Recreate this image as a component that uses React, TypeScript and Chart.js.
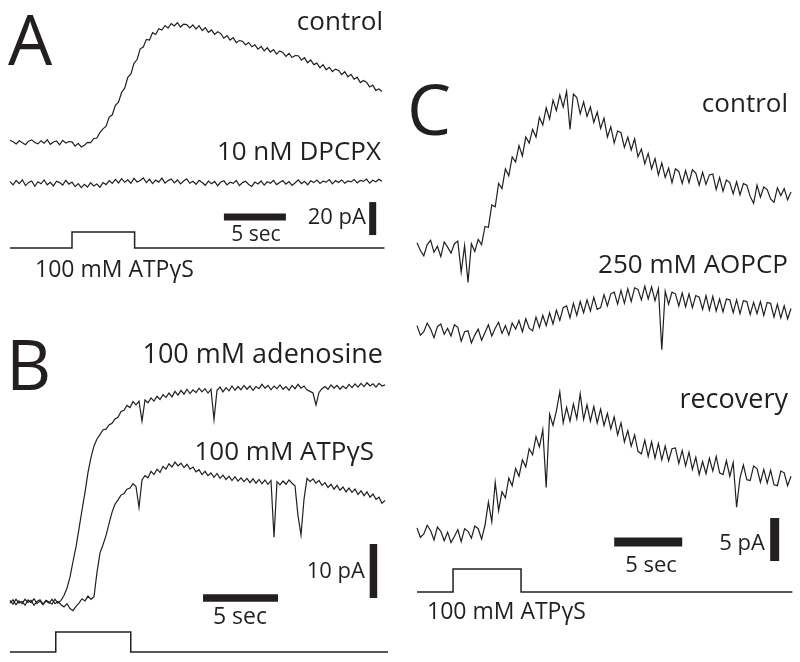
import React, { useEffect, useRef } from "react";
import { Chart, registerables } from "chart.js";

Chart.register(...registerables);

// ---------------- DATA ----------------
// Panel A: sampled every 0.25 s, current in pA relative to baseline
const A_DT = 0.25;
const A_CONTROL = [
  1.7, 0.8, -0.6, 1.3, 0.1, -1.0, 1.1, 1.9, 0.3, -0.5,
  1.4, -0.1, 2.0, -0.8, 0.6, 1.2, -1.1, 1.6, 0.0, 0.9,
  0.7, -1.9, -0.2, -2.4, -1.3, 0.4, 0.2, 2.6, 3.0, 6.3,
  8.6, 10.2, 15.7, 17.1, 22.9, 24.8, 30.6, 33.2, 39.8, 41.9,
  48.3, 50.6, 57.1, 58.2, 62.8, 62.4, 66.9, 65.8, 69.3, 68.5,
  71.2, 69.6, 72.4, 70.9, 72.9, 70.3, 72.0, 71.8, 69.7, 71.6,
  69.0, 71.1, 68.2, 69.9, 67.1, 68.5, 65.8, 67.4, 66.3, 63.5,
  65.1, 62.4, 63.9, 60.8, 62.1, 61.6, 59.4, 60.9, 58.3, 59.5,
  56.9, 58.6, 55.8, 57.7, 55.1, 56.6, 53.9, 55.8, 54.9, 52.5,
  54.3, 51.8, 53.0, 52.9, 50.2, 51.7, 48.6, 50.3, 47.5, 48.4,
  45.6, 47.5, 44.4, 45.9, 43.3, 44.8, 44.0, 41.5, 43.2, 40.1,
  41.6, 38.7, 39.9, 36.6, 37.9, 36.8, 34.0, 35.1, 31.9, 32.8,
  31.2,
];
const A_DPCPX = [
  0.8, -1.2, 1.5, -0.4, 1.9, -1.6, 0.3, 1.2, -2.0, 0.7,
  -0.5, 1.8, -1.1, 0.4, -1.8, 1.0, 0.2, -1.3, 1.6, -0.7,
  0.5, -2.2, -0.4, -2.8, -0.9, -2.5, 0.1, -1.9, -0.6, -2.6,
  0.2, -1.0, 1.4, -0.3, 2.1, 0.0, 2.6, 0.4, 1.9, -0.2,
  2.8, 0.6, 1.5, 3.0, 0.2, 2.2, -0.4, 1.7, 0.5, 2.9,
  -0.1, 1.4, 2.4, 0.0, 1.8, -0.6, 1.2, 2.5, -0.2, 1.0,
  -0.8, 1.6, 0.3, -1.4, 1.1, -0.5, 0.9, -1.7, 0.6, 1.3,
  -1.2, 0.4, -0.3, 1.5, -1.6, 0.2, 1.0, -0.9, -2.1, 0.5,
  -0.6, 1.2, -1.3, 0.7, -0.2, 1.6, -1.0, 0.3, 1.4, -0.7,
  0.8, -1.5, 0.1, 1.9, -0.4, 0.9, -1.1, 1.3, 0.2, 1.7,
  -0.3, 1.1, 0.5, 2.0, -0.6, 1.4, 0.3, 1.8, -0.2, 1.2,
  0.6, 2.1, 0.0, 1.5, 0.9, 2.3, -0.1, 1.6, 0.7, 2.2,
  1.0,
];
const A_STIM_ON_OFF = [5.0, 10.05]; // s
const A_SWEEP_END = 30.2; // s

// Panel B: sampled every 0.2 s
const B_DT = 0.2;
const B_ADENOSINE = [
  0.3, -0.4, 0.5, -0.2, 0.1, -0.6, 0.4, -0.1, 0.6, -0.3,
  0.2, -0.5, 0.3, 0.0, -0.4, 0.5, -0.2, 0.3, 1.2, 2.6,
  4.6, 7.5, 10.2, 13.6, 17.0, 20.3, 24.0, 26.8, 28.9, 30.2,
  31.0, 31.9, 32.0, 32.8, 33.1, 33.9, 34.2, 35.3, 35.5, 36.4,
  36.0, 37.1, 36.5, 37.2, 33.5, 37.4, 36.9, 37.8, 37.2, 38.1,
  37.5, 38.4, 37.9, 38.7, 38.0, 39.0, 38.3, 39.2, 38.5, 39.4,
  38.6, 39.3, 38.8, 39.6, 38.9, 39.5, 38.7, 39.4, 33.8, 39.2,
  39.8, 38.9, 39.7, 39.1, 40.0, 39.2, 39.9, 39.3, 40.1, 39.4,
  40.0, 39.2, 39.9, 39.5, 40.3, 39.6, 40.1, 39.3, 40.0, 39.5,
  40.2, 39.4, 39.9, 39.2, 40.1, 39.5, 40.3, 39.6, 40.0, 39.3,
  39.0, 38.7, 36.5, 38.8, 39.5, 39.9, 39.4, 40.2, 39.6, 40.1,
  39.4, 40.0, 39.5, 40.3, 39.7, 40.4, 39.8, 40.5, 39.9, 40.6,
  40.0, 40.4, 39.8, 40.5, 40.0, 40.2,
];
const B_ATPGS = [
  -0.2, 0.4, -0.5, 0.2, -0.3, 0.5, -0.1, 0.3, -0.6, 0.1,
  0.4, -0.4, 0.2, -0.2, 0.5, -0.3, 0.1, -0.5, -0.9, -0.3,
  -1.2, -1.6, -0.8, -0.2, 0.6, 0.2, 1.1, 0.5, 1.0, 5.5,
  9.1, 10.6, 12.3, 14.5, 16.6, 18.1, 18.9, 19.8, 20.1, 20.9,
  21.1, 21.9, 21.4, 17.5, 22.6, 23.4, 23.0, 24.2, 23.6, 24.6,
  24.0, 25.1, 24.6, 25.6, 25.0, 25.9, 25.2, 25.7, 24.9, 25.5,
  24.6, 25.0, 24.1, 24.5, 23.6, 24.2, 23.4, 23.9, 23.1, 23.8,
  22.9, 23.5, 22.7, 23.3, 22.5, 23.2, 22.4, 23.0, 22.3, 22.9,
  22.1, 22.8, 22.0, 22.7, 21.9, 22.6, 21.8, 22.5, 12.0, 22.3,
  21.7, 22.4, 21.8, 22.6, 22.0, 21.5, 16.0, 12.4, 19.0, 22.9,
  22.3, 22.8, 22.0, 22.5, 21.6, 22.1, 21.2, 21.8, 20.9, 21.6,
  20.7, 21.3, 20.4, 21.1, 20.3, 20.9, 19.9, 20.6, 19.7, 20.4,
  19.4, 20.0, 19.0, 19.4, 18.3, 18.8,
];
const B_STIM_ON_OFF = [3.05, 8.05];
const B_SWEEP_END = 25.2;

// Panel C: sampled every 0.25 s
const C_DT = 0.25;
const C_CONTROL = [
  0.6, -0.3, -0.9, 0.4, 0.9, -0.5, 0.2, -1.0, 0.7, 0.1,
  -0.6, 0.5, 0.8, -2.8, 0.3, -4.0, 0.5, -0.4, 1.0, 0.4,
  2.5, 2.4, 5.0, 4.8, 7.5, 6.9, 9.2, 8.4, 10.6, 10.0,
  11.9, 10.7, 12.9, 12.2, 13.8, 12.9, 15.2, 14.3, 16.3, 15.0,
  17.2, 16.0, 17.8, 16.4, 18.2, 13.8, 17.9, 17.5, 15.6, 17.0,
  15.3, 16.4, 14.6, 15.8, 13.9, 15.1, 12.9, 14.1, 12.2, 13.6,
  13.4, 11.7, 12.9, 11.4, 12.7, 10.6, 11.5, 9.8, 11.0, 9.2,
  10.4, 8.5, 9.9, 8.2, 9.3, 7.6, 9.2, 8.9, 7.5, 9.0,
  7.6, 9.1, 8.7, 7.3, 8.8, 7.4, 8.5, 8.6, 6.8, 8.2,
  6.6, 7.9, 7.6, 6.3, 7.7, 6.2, 7.5, 7.3, 6.0, 5.2,
  7.3, 5.9, 7.1, 6.8, 5.7, 5.3, 7.0, 6.1, 6.9, 5.6,
  6.5,
];
const C_AOPCP = [
  0.5, -0.6, -0.2, 0.8, 0.1, -0.9, 0.4, 0.7, -0.5, 0.2,
  -0.7, 0.6, 0.3, -1.3, -0.2, -0.1, -1.5, -0.6, 0.1, -1.2,
  -0.3, 0.6, -0.7, 0.2, 0.9, -0.4, 0.5, -0.6, 0.8, 0.1,
  1.1, -0.2, 1.3, 0.2, -0.1, 1.5, 0.3, 1.7, 0.5, 2.0,
  0.7, 2.3, 1.1, 2.6, 2.8, 1.4, 3.1, 1.7, 3.3, 2.0,
  3.5, 2.2, 3.8, 2.4, 2.6, 4.1, 2.8, 4.2, 4.4, 3.0,
  4.6, 3.1, 4.8, 3.3, 4.9, 4.7, 3.5, 5.1, 3.6, 5.0,
  3.4, 4.8, -2.3, 4.5, 3.0, 4.4, 4.2, 2.8, 4.3, 2.7,
  4.2, 2.6, 4.0, 3.8, 2.4, 4.0, 2.3, 3.9, 2.2, 3.6,
  2.1, 3.6, 3.5, 2.0, 3.5, 1.9, 3.4, 3.3, 1.8, 3.2,
  1.9, 3.3, 1.7, 3.2, 3.1, 1.5, 3.0, 1.4, 2.8, 1.3,
  2.5,
];
const C_RECOVERY = [
  0.6, -0.5, -0.1, 0.9, 0.3, -0.8, 0.7, 0.2,
  -0.9, 0.1, -1.1, -0.4, 0.4, -1.0, 0.5, 0.2,
  -0.6, 0.8, 0.5, -0.7, 0.9, 3.6, 1.3, 5.9,
  2.6, 4.8, 4.1, 6.4, 5.5, 7.5, 6.6, 8.5,
  7.7, 9.8, 9.1, 11.2, 10.0, 12.0, 5.3, 13.8,
  12.5, 14.2, 16.4, 12.8, 14.6, 13.0, 15.0, 13.3,
  16.2, 13.2, 14.9, 13.0, 14.7, 12.8, 14.4, 12.5,
  13.9, 12.1, 13.5, 11.4, 12.8, 10.6, 11.9, 10.1,
  11.4, 9.5, 9.2, 10.8, 8.9, 10.6, 8.7, 10.4,
  8.5, 10.1, 8.4, 9.8, 9.9, 8.1, 9.6, 7.8,
  9.4, 7.4, 8.8, 6.8, 8.3, 6.9, 8.7, 7.2,
  8.9, 7.0, 6.8, 8.4, 6.6, 8.2, 3.0, 6.4,
  7.9, 6.2, 6.1, 7.8, 7.5, 5.9, 7.4, 5.8,
  7.3, 5.6, 5.5, 7.2, 7.0, 5.5, 6.6,
];
const C_STIM_ON_OFF = [2.65, 7.65];
const C_SWEEP_END = 27.6;

// Scale bar sizes (data units)
const A_BAR = [5, 20]; // sec, pA
const B_BAR = [5, 10];
const C_BAR = [5, 5];

// ---------------- LAYOUT / STYLE ----------------
const INK = "#231f20";
const FONT = '"Open Sans", "Noto Sans", sans-serif';
const TRACE_W = 1.2;

type Geom = {
  left: number; top: number; width: number; height: number;
  x0: number; pxPerSec: number; y0: number; pxPerPA: number; s0: number; sPx: number;
};
const GEOM_A: Geom = { left: 0, top: 0, width: 400, height: 270, x0: 10, pxPerSec: 12.4, y0: 143, pxPerPA: 1.65, s0: 248, sPx: 16 };
const GEOM_B: Geom = { left: 0, top: 270, width: 400, height: 392, x0: 10, pxPerSec: 15, y0: 332, pxPerPA: 5.4, s0: 382, sPx: 20 };
const GEOM_C: Geom = { left: 400, top: 60, width: 400, height: 580, x0: 17, pxPerSec: 13.6, y0: 188, pxPerPA: 8.6, s0: 532, sPx: 23 };

// trace vertical offsets (pA) and scale bar anchors (data units)
const A_DPCPX_OFFSET = -24.2;
const A_BAR_POS = { tBar: 17.25, vBar: -44.8, tV: 29.25, vV: -55.8, w: 7 };
const B_BAR_POS = { tBar: 12.87, vBar: 0.74, tV: 24.23, vV: 0.74, w: 7.5 };
const C_AOPCP_OFFSET = -9.53;
const C_RECOVERY_OFFSET = -33.14;
const C_BAR_POS = { tBar: 14.5, vBar: -34.2, tV: 26.3, vV: -36.4, w: 9 };

type Label = { text: string; x: number; top: number; size: number; anchor: "left" | "right" | "center" };
const LABELS: Label[] = [
  { text: "A", x: 8, top: 3, size: 70, anchor: "left" },
  { text: "control", x: 383, top: 7, size: 26, anchor: "right" },
  { text: "10 nM DPCPX", x: 381, top: 137, size: 26, anchor: "right" },
  { text: "5 sec", x: 256, top: 223, size: 21, anchor: "center" },
  { text: "20 pA", x: 366, top: 204, size: 22, anchor: "right" },
  { text: "100 mM ATPγS", x: 35, top: 257, size: 23, anchor: "left" },
  { text: "B", x: 6, top: 328, size: 70, anchor: "left" },
  { text: "100 mM adenosine", x: 383, top: 339, size: 27, anchor: "right" },
  { text: "100 mM ATPγS", x: 374, top: 437, size: 26, anchor: "right" },
  { text: "10 pA", x: 365, top: 558, size: 22, anchor: "right" },
  { text: "5 sec", x: 240, top: 604, size: 23, anchor: "center" },
  { text: "C", x: 407, top: 73, size: 70, anchor: "left" },
  { text: "control", x: 788, top: 89, size: 26, anchor: "right" },
  { text: "250 mM AOPCP", x: 788, top: 250, size: 26, anchor: "right" },
  { text: "recovery", x: 788, top: 384, size: 27, anchor: "right" },
  { text: "5 sec", x: 651, top: 552, size: 22, anchor: "center" },
  { text: "5 pA", x: 765, top: 530, size: 22, anchor: "right" },
  { text: "100 mM ATPγS", x: 427, top: 599, size: 23, anchor: "left" },
];

// ---------------- BUILDERS ----------------
function traceDs(values: number[], dt: number, offset: number) {
  return {
    data: values.map((v, i) => ({ x: i * dt, y: v + offset })),
    borderColor: INK,
    borderWidth: TRACE_W,
    borderJoinStyle: "miter",
    pointRadius: 0,
    tension: 0,
    fill: false,
    yAxisID: "y",
  };
}

function stimDs(onOff: number[], end: number) {
  const [on, off] = onOff;
  return {
    data: [
      { x: 0, y: 0 }, { x: on, y: 0 }, { x: on, y: 1 },
      { x: off, y: 1 }, { x: off, y: 0 }, { x: end, y: 0 },
    ],
    borderColor: INK,
    borderWidth: 1.5,
    pointRadius: 0,
    tension: 0,
    fill: false,
    yAxisID: "stim",
  };
}

function barDs(points: { x: number; y: number }[], w: number) {
  return {
    data: points,
    borderColor: INK,
    borderWidth: w,
    borderCapStyle: "butt",
    pointRadius: 0,
    tension: 0,
    fill: false,
    yAxisID: "y",
  };
}

function scaleBars(size: number[], pos: { tBar: number; vBar: number; tV: number; vV: number; w: number }) {
  const [sec, pa] = size;
  return [
    barDs([{ x: pos.tBar, y: pos.vBar }, { x: pos.tBar + sec, y: pos.vBar }], pos.w),
    barDs([{ x: pos.tV, y: pos.vV }, { x: pos.tV, y: pos.vV + pa }], pos.w),
  ];
}

function ranges(g: Geom) {
  return {
    x: { type: "linear", display: false, min: -g.x0 / g.pxPerSec, max: (g.width - g.x0) / g.pxPerSec },
    y: { type: "linear", display: false, min: (g.y0 - g.height) / g.pxPerPA, max: g.y0 / g.pxPerPA },
    stim: { type: "linear", display: false, min: (g.s0 - g.height) / g.sPx, max: g.s0 / g.sPx },
  };
}

function buildDatasets(panel: string): any[] {
  if (panel === "A") {
    return [
      traceDs(A_CONTROL, A_DT, 0),
      traceDs(A_DPCPX, A_DT, A_DPCPX_OFFSET),
      stimDs(A_STIM_ON_OFF, A_SWEEP_END),
      ...scaleBars(A_BAR, A_BAR_POS),
    ];
  }
  if (panel === "B") {
    return [
      traceDs(B_ADENOSINE, B_DT, 0),
      traceDs(B_ATPGS, B_DT, 0),
      stimDs(B_STIM_ON_OFF, B_SWEEP_END),
      ...scaleBars(B_BAR, B_BAR_POS),
    ];
  }
  return [
    traceDs(C_CONTROL, C_DT, 0),
    traceDs(C_AOPCP, C_DT, C_AOPCP_OFFSET),
    traceDs(C_RECOVERY, C_DT, C_RECOVERY_OFFSET),
    stimDs(C_STIM_ON_OFF, C_SWEEP_END),
    ...scaleBars(C_BAR, C_BAR_POS),
  ];
}

function PanelChart({ panel, geom }: { panel: string; geom: Geom }) {
  const ref = useRef<HTMLCanvasElement | null>(null);
  useEffect(() => {
    if (!ref.current) return;
    const chart = new Chart(ref.current, {
      type: "line",
      data: { datasets: buildDatasets(panel) },
      options: {
        animation: false,
        responsive: false,
        maintainAspectRatio: false,
        events: [],
        layout: { padding: 0 },
        plugins: { legend: { display: false }, tooltip: { enabled: false }, title: { display: false } },
        scales: ranges(geom) as any,
      },
    } as any);
    return () => chart.destroy();
  }, [panel, geom]);
  return (
    <canvas
      ref={ref}
      width={geom.width}
      height={geom.height}
      style={{ position: "absolute", left: geom.left, top: geom.top, width: geom.width, height: geom.height }}
    />
  );
}

function LabelEl({ l }: { l: Label }) {
  const base: React.CSSProperties = {
    position: "absolute",
    top: l.top,
    fontFamily: FONT,
    fontSize: l.size,
    lineHeight: 1,
    color: INK,
    whiteSpace: "nowrap",
  };
  if (l.anchor === "left") return <div style={{ ...base, left: l.x }}>{l.text}</div>;
  if (l.anchor === "right") return <div style={{ ...base, right: 800 - l.x }}>{l.text}</div>;
  return <div style={{ ...base, left: l.x - 100, width: 200, textAlign: "center" }}>{l.text}</div>;
}

export default function App() {
  return (
    <div style={{ position: "absolute", left: 0, top: 0, width: 800, height: 662, background: "#ffffff", overflow: "hidden" }}>
      <PanelChart panel="A" geom={GEOM_A} />
      <PanelChart panel="B" geom={GEOM_B} />
      <PanelChart panel="C" geom={GEOM_C} />
      {LABELS.map((l, i) => <LabelEl key={i} l={l} />)}
    </div>
  );
}
